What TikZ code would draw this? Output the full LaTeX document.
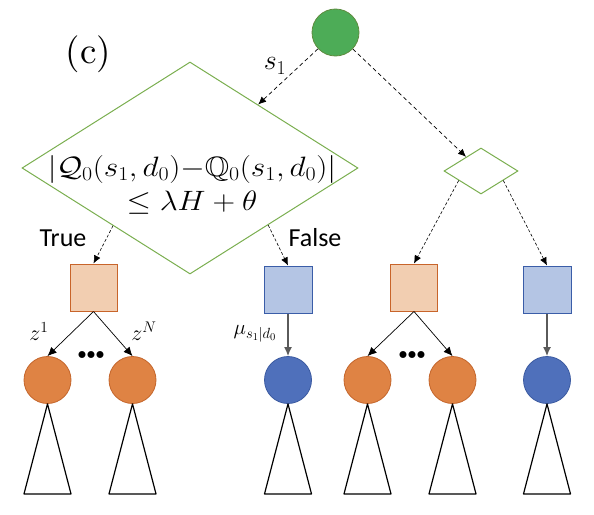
\RequirePackage{fix-cm}
\documentclass[tikz,border=0pt]{standalone}
\usepackage{amssymb}
\usepackage{fontspec}
\newfontfamily\labfont{Carlito}
\newfontfamily\lmten{lmroman10-regular}[Extension=.otf]
\usetikzlibrary{arrows.meta,shapes.geometric,calc}
\definecolor{greenfill}{HTML}{4DAC57}
\definecolor{greenline}{HTML}{5E8C3F}
\definecolor{diagreen}{HTML}{7AAE4F}
\definecolor{obfill}{HTML}{F2CEB1}
\definecolor{obline}{HTML}{C8642A}
\definecolor{ocfill}{HTML}{DF8344}
\definecolor{ocline}{HTML}{C4652B}
\definecolor{bbfill}{HTML}{B4C5E4}
\definecolor{bbline}{HTML}{3A5DA8}
\definecolor{bcfill}{HTML}{4F70BB}
\definecolor{bcline}{HTML}{3B5AA0}
\definecolor{arrgray}{HTML}{5A5A5A}
\begin{document}
\begin{tikzpicture}[x=1pt,y=-1pt,
  root/.style={circle, minimum size=47pt, inner sep=0pt, fill=greenfill, draw=greenline, line width=0.8pt},
  bigdia/.style={diamond, draw=diagreen, line width=1pt, minimum width=336pt, minimum height=212pt, inner sep=0pt},
  smalldia/.style={diamond, draw=diagreen, line width=1pt, minimum width=74pt, minimum height=46pt, inner sep=0pt},
  obox/.style={rectangle, minimum width=47pt, minimum height=47pt, inner sep=0pt, fill=obfill, draw=obline, line width=1pt},
  bbox/.style={rectangle, minimum width=48pt, minimum height=47pt, inner sep=0pt, fill=bbfill, draw=bbline, line width=1pt},
  ocirc/.style={circle, minimum size=47pt, inner sep=0pt, fill=ocfill, draw=ocline, line width=0.8pt},
  bcirc/.style={circle, minimum size=47pt, inner sep=0pt, fill=bcfill, draw=bcline, line width=0.8pt},
  dasharr/.style={draw=black, line width=0.7pt, dash pattern=on 4pt off 3pt, -{Latex[length=8pt,width=7pt]}},
  finedash/.style={draw=black, line width=0.6pt, dash pattern=on 3pt off 2pt, -{Latex[length=8pt,width=7pt]}},
  solidarr/.style={draw=black, line width=0.7pt, -{Latex[length=9pt,width=8pt]}},
  grayarr/.style={draw=arrgray, line width=1.3pt, -{Latex[length=9pt,width=8pt]}},
  tri/.style={draw=black, line width=1.2pt, line join=round},
  lab/.style={font=\labfont\fontsize{26}{28}\selectfont, inner sep=0pt},
  mathlab/.style={inner sep=0pt}
]
\useasboundingbox (0,0) rectangle (594,514);

% top
\node[root] (g) at (335.5,32.5) {};
\node[bigdia] (D) at (190,168) {};
\node[smalldia] (d2) at (481,171) {};
\node[font=\fontsize{28}{34}\selectfont, align=center, inner sep=0pt, xscale=1.12] (Dt) at (192,185)
  {$|\mathcal{Q}_0(s_1,d_0){-}\mathbb{Q}_0(s_1,d_0)|$\\$\leq \lambda H+\theta$};

% boxes
\node[obox] (b1) at (93.5,287.5) {};
\node[bbox] (b2) at (288,289.5) {};
\node[obox] (b3) at (414,287.5) {};
\node[bbox] (b4) at (547,289.5) {};

% circles
\node[ocirc] (o1) at (47.5,380) {};
\node[ocirc] (o2) at (132.5,380) {};
\node[bcirc] (u1) at (288,380) {};
\node[ocirc] (o3) at (367.5,380) {};
\node[ocirc] (o4) at (452.5,380) {};
\node[bcirc] (u2) at (547,380) {};

% connectors
\draw[dasharr] (g) -- (D);
\draw[dasharr] (g) -- (d2);
\draw[finedash] ($(D.west)!0.543!(D.south)$) -- (b1.north);
\draw[finedash] ($(D.south)!0.464!(D.east)$) -- (b2.north);
\draw[finedash] ($(d2.west)!0.405!(d2.south)$) -- (b3.north);
\draw[finedash] ($(d2.south)!0.595!(d2.east)$) -- (b4.north);
\draw[solidarr] (b1.south) -- (o1.north);
\draw[solidarr] (b1.south) -- (o2.north);
\draw[solidarr] (b3.south) -- (o3.north);
\draw[solidarr] (b3.south) -- (o4.north);
\draw[grayarr] (b2) -- (u1);
\draw[grayarr] (b4) -- (u2);

% triangles
\foreach \c in {o1,o2,u1,o3,o4,u2}{
  \draw[tri] (\c.south) -- ($(\c.south)+(-23.5,90)$) -- ($(\c.south)+(23.5,90)$) -- cycle;
}

% labels
\node[font=\lmten\fontsize{37}{40}\selectfont, inner sep=0pt] (lc) at (88.5,54) {(c)};
\node[mathlab, font=\fontsize{28}{30}\selectfont] (ls) at (275,66) {$s_1$};
\node[lab] (lt) at (63,238) {True};
\node[lab] (lf) at (315,238) {False};
\node[mathlab, font=\fontsize{22}{24}\selectfont] (lz1) at (39,332) {$z^1$};
\node[mathlab, font=\fontsize{22}{24}\selectfont] (lzN) at (144,331) {$z^N$};
\node[mathlab, font=\fontsize{21}{23}\selectfont] (lmu) at (255,334) {$\mu_{s_1|d_0}$};
\node[mathlab, font=\fontsize{18}{20}\selectfont] (dt1) at (91,355) {$\mathord{\bullet}\mathord{\bullet}\mathord{\bullet}$};
\node[mathlab, font=\fontsize{18}{20}\selectfont] (dt2) at (412,355) {$\mathord{\bullet}\mathord{\bullet}\mathord{\bullet}$};
\end{tikzpicture}
\end{document}
